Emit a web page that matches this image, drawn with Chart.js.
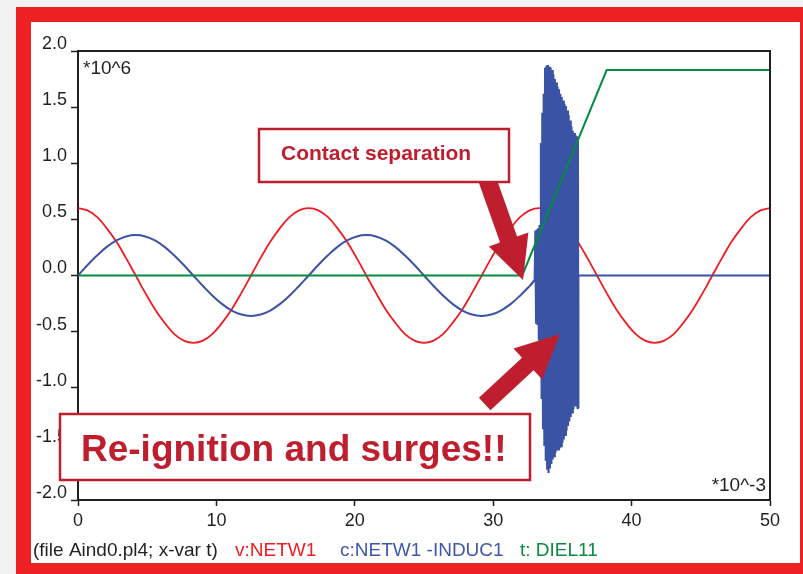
<!DOCTYPE html>
<html>
<head>
<meta charset="utf-8">
<script src="https://cdn.jsdelivr.net/npm/chart.js@4"></script>
<style>
  html, body { margin: 0; padding: 0; background: #f2f2f2; overflow: hidden; }
  canvas { display: block; }
</style>
</head>
<body>
<canvas id="c" width="803" height="574"></canvas>
<script>
// ---- data ----
// time grid for the power-frequency waves (ms)
const waveT = [0, 0.69, 1.39, 2.08, 2.78, 3.47, 4.17, 4.86, 5.56, 6.25, 6.94, 7.64,
  8.33, 9.03, 9.72, 10.42, 11.11, 11.81, 12.50, 13.19, 13.89, 14.58, 15.28, 15.97,
  16.67, 17.36, 18.06, 18.75, 19.44, 20.14, 20.83, 21.53, 22.22, 22.92, 23.61, 24.31,
  25.00, 25.69, 26.39, 27.08, 27.78, 28.47, 29.17, 29.86, 30.56, 31.25, 31.94, 32.64,
  33.33, 34.03, 34.72, 35.42, 36.11, 36.81, 37.50, 38.19, 38.89, 39.58, 40.28, 40.97,
  41.67, 42.36, 43.06, 43.75, 44.44, 45.14, 45.83, 46.53, 47.22, 47.92, 48.61, 49.31, 50.00];

// v:NETW1 (x10^6)
const voltV = [0.60, 0.58, 0.52, 0.42, 0.30, 0.155, 0, -0.155, -0.30, -0.42, -0.52, -0.58,
  -0.60, -0.58, -0.52, -0.42, -0.30, -0.155, 0, 0.155, 0.30, 0.42, 0.52, 0.58,
  0.60, 0.58, 0.52, 0.42, 0.30, 0.155, 0, -0.155, -0.30, -0.42, -0.52, -0.58,
  -0.60, -0.58, -0.52, -0.42, -0.30, -0.155, 0, 0.155, 0.30, 0.42, 0.52, 0.58,
  0.60, 0.58, 0.52, 0.42, 0.30, 0.155, 0, -0.155, -0.30, -0.42, -0.52, -0.58,
  -0.60, -0.58, -0.52, -0.42, -0.30, -0.155, 0, 0.155, 0.30, 0.42, 0.52, 0.58, 0.60];

// c:NETW1 -INDUC1 before the interruption (same time grid, first 48 samples)
const currWaveV = [0, 0.093, 0.18, 0.255, 0.312, 0.348, 0.36, 0.348, 0.312, 0.255, 0.18, 0.093,
  0, -0.093, -0.18, -0.255, -0.312, -0.348, -0.36, -0.348, -0.312, -0.255, -0.18, -0.093,
  0, 0.093, 0.18, 0.255, 0.312, 0.348, 0.36, 0.348, 0.312, 0.255, 0.18, 0.093,
  0, -0.093, -0.18, -0.255, -0.312, -0.348, -0.36, -0.348, -0.312, -0.255, -0.18, -0.093];

// c:NETW1 -INDUC1 during re-ignitions
const surgeT = [32.64, 33.00, 33.05, 33.10, 33.15, 33.20, 33.25, 33.30, 33.35, 33.40, 33.45, 33.50,
  33.55, 33.60, 33.65, 33.70, 33.75, 33.80, 33.85, 33.90, 33.95, 34.00, 34.05, 34.10,
  34.15, 34.20, 34.25, 34.30, 34.35, 34.40, 34.45, 34.50, 34.55, 34.60, 34.65, 34.70,
  34.75, 34.80, 34.85, 34.90, 34.95, 35.00, 35.05, 35.10, 35.15, 35.20, 35.25, 35.30,
  35.35, 35.40, 35.45, 35.50, 35.55, 35.60, 35.65, 35.70, 35.75, 35.80, 35.85, 35.90,
  35.95, 36.00, 36.05, 36.10, 36.12, 36.14, 36.15];
const surgeV = [-0.093, -0.04, 0.40, -0.42, 0.41, -0.44, 0.42, -0.58, 0.45, -0.80, 1.18, -1.10,
  1.45, -1.36, 1.62, -1.52, 1.85, -1.65, 1.87, -1.72, 1.875, -1.76, 1.86, -1.72,
  1.85, -1.68, 1.83, -1.64, 1.79, -1.61, 1.75, -1.58, 1.72, -1.56, 1.68, -1.55,
  1.66, -1.54, 1.62, -1.52, 1.59, -1.49, 1.56, -1.46, 1.53, -1.42, 1.51, -1.38,
  1.47, -1.34, 1.43, -1.30, 1.38, -1.26, 1.33, -1.22, 1.29, -1.19, 1.27, -1.16,
  1.25, -1.16, 1.24, -1.18, 1.23, -1.17, 0];

// c:NETW1 -INDUC1 after final interruption
const tailT = [36.15, 50.00];
const tailV = [0, 0];

// t: DIEL11
const dielT = [0, 32.10, 38.20, 50.00];
const dielV = [0, 0, 1.83, 1.83];

// axis ticks
const yTicks = [-2.0, -1.5, -1.0, -0.5, 0.0, 0.5, 1.0, 1.5, 2.0];
const xTicks = [0, 10, 20, 30, 40, 50];

// texts
const legendItems = [
  { text: '(file Aind0.pl4; x-var t)', color: '#231f20', x: 33 },
  { text: 'v:NETW1', color: '#ee1d23', x: 235 },
  { text: 'c:NETW1 -INDUC1', color: '#3d59a8', x: 340 },
  { text: 't: DIEL11', color: '#0b8a40', x: 520 }
];
const yUnit = '*10^6';
const xUnit = '*10^-3';
const note1 = 'Contact separation';
const note2 = 'Re-ignition and surges!!';

// ---- styles ----
const RED = '#ee1d23', BLUE = '#3a53a4', GREEN = '#058c42', DARK = '#231f20', NOTE = '#be1e2d';
const FONT = '"Liberation Sans", Arial, Helvetica, sans-serif';

const pts = (xs, ys) => ys.map((y, i) => ({ x: xs[i], y: y }));

function arrow(ctx, x0, y0, x1, y1, w, h, L) {
  const dx = x1 - x0, dy = y1 - y0, len = Math.hypot(dx, dy);
  const ux = dx / len, uy = dy / len, nx = -uy, ny = ux;
  const bx = x1 - ux * L, by = y1 - uy * L;
  ctx.beginPath();
  ctx.moveTo(x0 + nx * w, y0 + ny * w);
  ctx.lineTo(bx + nx * w, by + ny * w);
  ctx.lineTo(bx + nx * h, by + ny * h);
  ctx.lineTo(x1, y1);
  ctx.lineTo(bx - nx * h, by - ny * h);
  ctx.lineTo(bx - nx * w, by - ny * w);
  ctx.lineTo(x0 - nx * w, y0 - ny * w);
  ctx.closePath();
  ctx.fillStyle = NOTE;
  ctx.fill();
}

const decor = {
  id: 'decor',
  beforeDraw(chart) {
    const ctx = chart.ctx;
    ctx.save();
    ctx.fillStyle = '#f2f2f2';
    ctx.fillRect(0, 0, 803, 574);
    ctx.fillStyle = '#ed2024';
    ctx.fillRect(16, 7, 803 - 16, 574 - 7);
    ctx.fillStyle = '#ffffff';
    ctx.fillRect(31, 22, 800 - 31, 563 - 22);
    ctx.restore();
  },
  afterDraw(chart) {
    const ctx = chart.ctx;
    const a = chart.chartArea;
    ctx.save();
    // frame top & right
    ctx.strokeStyle = DARK;
    ctx.lineWidth = 2;
    ctx.beginPath();
    ctx.moveTo(a.left, a.top);
    ctx.lineTo(a.right, a.top);
    ctx.lineTo(a.right, a.bottom);
    ctx.stroke();

    // unit labels
    ctx.fillStyle = DARK;
    ctx.font = '19px ' + FONT;
    ctx.textBaseline = 'alphabetic';
    ctx.textAlign = 'left';
    ctx.fillText(yUnit, a.left + 5, a.top + 23);
    ctx.textAlign = 'right';
    ctx.fillText(xUnit, a.right - 4, a.bottom - 9);

    // legend line
    ctx.textAlign = 'left';
    ctx.font = '19px ' + FONT;
    legendItems.forEach(it => {
      ctx.fillStyle = it.color;
      ctx.fillText(it.text, it.x, 556);
    });

    // arrows
    arrow(ctx, 484.6, 172, 523, 280, 9, 21, 43);
    arrow(ctx, 484.7, 404, 560, 334, 8.5, 21, 44);

    // boxes
    ctx.lineWidth = 2.5;
    ctx.strokeStyle = NOTE;
    ctx.fillStyle = '#ffffff';
    ctx.fillRect(259, 129, 250, 53);
    ctx.strokeRect(259, 129, 250, 53);
    ctx.fillRect(60, 414, 470, 66);
    ctx.strokeRect(60, 414, 470, 66);

    ctx.fillStyle = NOTE;
    ctx.font = 'bold 21px ' + FONT;
    ctx.fillText(note1, 281, 160);
    ctx.font = 'bold 37px ' + FONT;
    ctx.fillText(note2, 81, 461);
    ctx.restore();
  }
};

const tickFont = { family: FONT, size: 18 };

new Chart(document.getElementById('c'), {
  type: 'line',
  data: {
    datasets: [
      { label: 'v:NETW1', data: pts(waveT, voltV), borderColor: RED, borderWidth: 1.8,
        pointRadius: 0, tension: 0.4, order: 3 },
      { label: 'c:NETW1 -INDUC1', data: pts(waveT, currWaveV), borderColor: BLUE, borderWidth: 2,
        pointRadius: 0, tension: 0.4, order: 2 },
      { label: 'c:NETW1 -INDUC1 surge', data: pts(surgeT, surgeV), borderColor: BLUE, borderWidth: 2.2,
        pointRadius: 0, tension: 0, order: 2 },
      { label: 'c:NETW1 -INDUC1 tail', data: pts(tailT, tailV), borderColor: BLUE, borderWidth: 2,
        pointRadius: 0, tension: 0, order: 2 },
      { label: 't: DIEL11', data: pts(dielT, dielV), borderColor: GREEN, borderWidth: 2,
        pointRadius: 0, tension: 0, order: 1 }
    ]
  },
  options: {
    responsive: false,
    animation: false,
    devicePixelRatio: 1,
    layout: { padding: { left: 0, top: 51, right: 33, bottom: 34 } },
    plugins: { legend: { display: false }, tooltip: { enabled: false }, title: { display: false } },
    scales: {
      x: {
        type: 'linear', min: 0, max: 50,
        afterFit(s) { s.height = 40; },
        afterBuildTicks(s) { s.ticks = xTicks.map(v => ({ value: v })); },
        ticks: { font: tickFont, color: DARK, padding: 4, maxRotation: 0, autoSkip: false,
          callback: v => String(v) },
        grid: { drawOnChartArea: false, drawTicks: true, tickLength: 6, tickWidth: 1.5, tickColor: DARK },
        border: { display: true, color: DARK, width: 2 }
      },
      y: {
        type: 'linear', min: -2, max: 2,
        afterFit(s) { s.width = 78; },
        afterBuildTicks(s) { s.ticks = yTicks.map(v => ({ value: v })); },
        ticks: { font: tickFont, color: DARK, padding: 4, labelOffset: -7, autoSkip: false,
          callback: v => v.toFixed(1) },
        grid: { drawOnChartArea: false, drawTicks: true, tickLength: 7, tickWidth: 1.5, tickColor: DARK },
        border: { display: true, color: DARK, width: 2 }
      }
    }
  },
  plugins: [decor]
});
</script>
</body>
</html>
